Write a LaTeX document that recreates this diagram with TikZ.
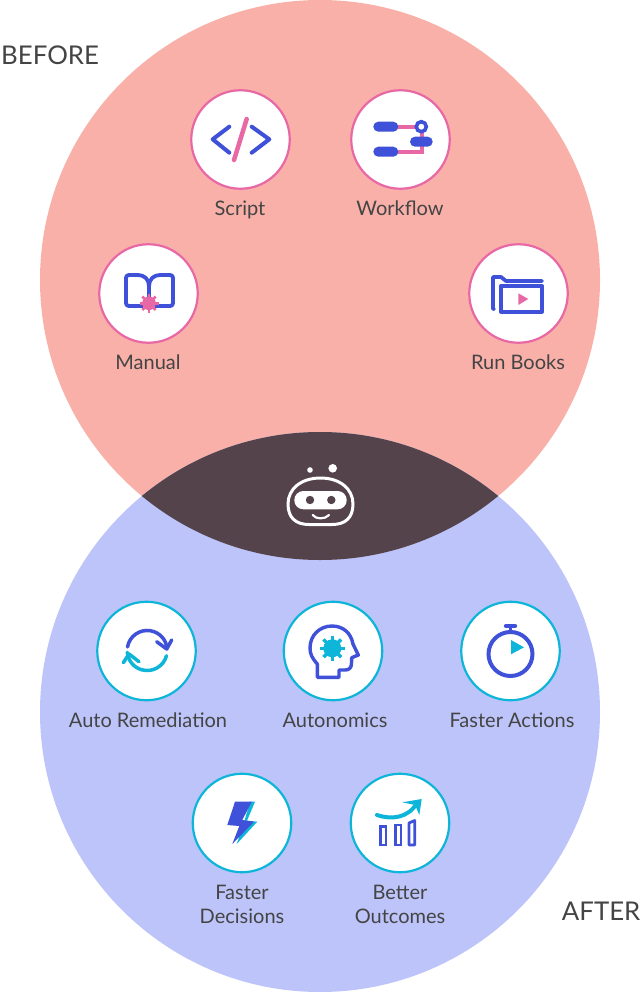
\documentclass[tikz,border=0pt]{standalone}
\usepackage{fontspec}
\setmainfont{Lato}
\definecolor{topfill}{HTML}{F8B0A9}
\definecolor{botfill}{HTML}{BDC4FA}
\definecolor{lens}{HTML}{54434A}
\definecolor{pinkc}{HTML}{E868A5}
\definecolor{bluec}{HTML}{3F51D8}
\definecolor{cyanc}{HTML}{0DB5D8}
\definecolor{txt}{HTML}{444444}
\newcommand{\gearshape}[5]{% x y r colour raywidth
  \fill[#4] (#1,#2) circle ({0.72*#3});
  \foreach \a in {0,45,...,315}
    \draw[#4,line width=#5] (#1,#2) -- ++(\a:#3);
}
\tikzset{
  x=1pt,y=-1pt,
  beforecircle/.style={circle,draw=pinkc,fill=white,line width=2.2pt,minimum size=98.5pt,inner sep=0pt},
  aftercircle/.style={circle,draw=cyanc,fill=white,line width=2.2pt,minimum size=98.5pt,inner sep=0pt},
  label text/.style={text=txt,font=\fontsize{20}{24}\selectfont,align=center,inner sep=0pt},
  one line/.style={label text,anchor=base},
  side text/.style={text=txt,font=\fontsize{25.8}{30}\selectfont,inner sep=0pt},
  bl/.style={bluec,line width=4pt,line cap=round,line join=round},
  bt/.style={bluec,line width=3.4pt,line join=round},
  pk/.style={pinkc,line width=4pt},
  cy/.style={cyanc,line width=3.5pt,line cap=round,line join=round},
  wh/.style={white,line width=3pt,line cap=round}
}
\begin{document}
\begin{tikzpicture}
\useasboundingbox (0,0) rectangle (642,992);
\fill[topfill] (320,280) circle (280);
\fill[botfill] (320,712) circle (280);
\begin{scope}
  \clip (320,280) circle (280);
  \fill[lens] (320,712) circle (280);
\end{scope}
\node[side text,anchor=west] (before) at (1,55) {BEFORE};
\node[side text,anchor=east] (after) at (640.5,911) {AFTER};

% Top circles
\node[beforecircle] (script) at (240.5,139.5) {};
\node[beforecircle] (workflow) at (400.5,139.5) {};
\node[beforecircle] (manual) at (148.5,293.5) {};
\node[beforecircle] (runbooks) at (518.5,293.5) {};
\node[one line] (scriptl) at (240,215) {Script};
\node[one line] (workflowl) at (400,215) {Workflow};
\node[one line] (manuall) at (148,369) {Manual};
\node[one line] (runbooksl) at (518,369) {Run Books};

% Script icon
\draw[bl] (229.3,126.7) -- (212.7,139.3) -- (229.3,152.7);
\draw[bl] (251.7,126.7) -- (269.3,139.3) -- (251.7,152.7);
\draw[pinkc,line width=4.5pt,line cap=round] (246.7,119) -- (234,160);

% Workflow icon
\draw[pk] (396,126.7) -- (418,126.7);
\draw[pk] (396,151.7) -- (421.5,151.7) -- (421.5,130);
\fill[bluec,rounded corners=5pt] (373.3,121.7) rectangle (398.3,131.7);
\fill[bluec,rounded corners=5pt] (410,136.7) rectangle (432.7,146.7);
\fill[bluec,rounded corners=5pt] (373.3,146.7) rectangle (398.3,156.7);
\draw[bluec,line width=3.6pt,fill=white] (421.3,126.7) circle (5);

% Manual icon
\draw[bl,line width=3.8pt] (149,303) -- (149,286) .. controls (149,279) and (144,275) .. (138,275)
  -- (129,275) .. controls (127,275) and (126,276) .. (126,278) -- (126,303) .. controls (126,305) and (127,306) .. (129,306)
  -- (170,306) .. controls (172,306) and (173,305) .. (173,303) -- (173,278) .. controls (173,276) and (172,275) .. (170,275)
  -- (160,275) .. controls (154,275) and (149,279) .. (149,286);
\gearshape{149}{303.3}{9.5}{pinkc}{2.6pt}

% Run Books icon
\draw[bl,line width=3.8pt] (494,309) -- (493,309) -- (493,277) -- (501,277) -- (506,281) -- (542,281);
\draw[bl,line width=4pt] (501,286) rectangle (542,311.5);
\fill[pinkc] (518.3,293.3) -- (528.3,299) -- (518.3,305) -- cycle;

% Robot
\fill[white] (310,470) circle (2.8);
\fill[white] (332.7,468.3) circle (4.3);
\draw[wh] (320.5,478) .. controls (340,478) and (353,489) .. (353,504)
  .. controls (353,518) and (345,524.5) .. (332,524.5) -- (309,524.5)
  .. controls (296,524.5) and (288,518) .. (288,504)
  .. controls (288,489) and (301,478) .. (320.5,478) -- cycle;
\fill[white,rounded corners=9pt] (294.3,491) rectangle (346.7,509.3);
\fill[lens] (310,500) circle (4.2);
\fill[lens] (331.3,500) circle (4.2);
\draw[wh,line width=2.2pt] (312.7,515) .. controls (316,519.5) and (325,519.5) .. (329,515);

% Bottom circles
\node[aftercircle] (auto) at (146.5,651) {};
\node[aftercircle] (autonomics) at (333,651) {};
\node[aftercircle] (actions) at (510.5,651) {};
\node[aftercircle] (decisions) at (242,823) {};
\node[aftercircle] (outcomes) at (400,823) {};
\node[one line] (autol) at (148,727) {Auto Remediation};
\node[one line] (autonomicsl) at (335,727) {Autonomics};
\node[one line] (actionsl) at (512,727) {Faster Actions};
\node[label text] (decisionsl) at (242,904) {Faster\\Decisions};
\node[label text] (outcomesl) at (400,904) {Better\\Outcomes};

% Auto remediation icon
\draw[bluec,line width=3.5pt,line cap=round,line join=round] (127.5,647) arc[start angle=170,end angle=5,x radius=20,y radius=-20];
\draw[bluec,line width=3.5pt,line cap=round,line join=round] (156.7,641.7) -- (166.7,649) -- (171.7,640);
\draw[cy] (166.5,655.7) arc[start angle=-15,end angle=-175,x radius=20,y radius=-20];
\draw[cy] (123.3,662.7) -- (129,654) -- (139,661.7);

% Autonomics icon
\draw[bt] (317.3,677.3) -- (317.3,664) .. controls (312,658) and (310,654) .. (310,648)
  .. controls (310,635) and (320,626) .. (332,626)
  .. controls (343,626) and (351,633) .. (353,644)
  -- (358.3,655) -- (351.7,657.7) -- (351.5,663)
  .. controls (351.5,668) and (349,670) .. (345,670)
  -- (339,670) -- (339,677.3) -- cycle;
\gearshape{332.3}{648.3}{12.5}{cyanc}{3.4pt}

% Faster actions icon
\draw[bluec,line width=4pt] (510.5,654) circle (22);
\draw[bluec,line width=4.4pt,line cap=round] (506,626) -- (515,626);
\draw[bluec,line width=3pt] (510.5,627) -- (510.5,632);
\fill[cyanc] (511,640) -- (524,647.3) -- (511,654.3) -- cycle;

% Faster decisions icon
\fill[cyanc] (250,801.7) -- (255,801.7) -- (247,820.7) -- (257.3,821.7) -- (236.7,844) -- (243,826) -- cycle;
\fill[bluec] (235,801.7) -- (251.7,801.7) -- (242.3,820) -- (254,821.7) -- (232.3,844) -- (239.3,826) -- (227.3,825) -- cycle;

% Better outcomes icon
\draw[bluec,line width=2.8pt] (380.7,826.5) rectangle (386,845);
\draw[bluec,line width=2.8pt] (395.7,825) rectangle (401,845);
\draw[bluec,line width=2.8pt,line join=round] (409,823) -- (414.7,820.5) -- (414.7,845) -- (409,845) -- cycle;
\draw[cyanc,line width=4pt,line cap=round] (377,815) .. controls (392,820) and (408,818) .. (417,803);
\fill[cyanc] (402.3,802.3) -- (421.7,799) -- (419.3,815) -- (415,805) -- cycle;
\end{tikzpicture}
\end{document}
